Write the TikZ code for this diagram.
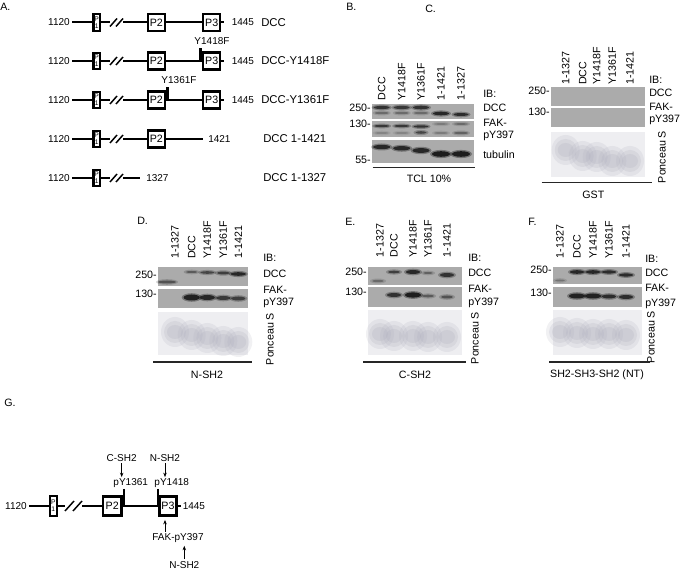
\documentclass[tikz,border=0pt]{standalone}
\usepackage{fontspec}
\setmainfont{Liberation Sans}
\usetikzlibrary{arrows.meta,calc}

\definecolor{blotbg}{gray}{0.67}
\definecolor{bandc}{gray}{0.1}
\definecolor{poncbg}{RGB}{238,238,241}
\definecolor{poncfg}{RGB}{176,176,190}

\begin{document}
\begin{tikzpicture}[
  x=0.75pt, y=-0.75pt,
  >={Stealth[length=3.4pt,width=2.6pt]},
  every node/.style={font=\fontsize{8}{9.6}\selectfont, inner sep=0pt},
  numlbl/.style={font=\fontsize{7.5}{9}\selectfont},
  namelbl/.style={font=\fontsize{8.5}{10}\selectfont, anchor=west},
  domline/.style={line width=1.5pt},
  brkmark/.style={line width=1.1pt},
  tyrbar/.style={line width=2pt},
  pbox/.style={draw, line width=1.8pt, minimum width=12.8pt, minimum height=12.8pt},
  ponebox/.style={draw, line width=1.6pt, minimum width=4.8pt, minimum height=12.4pt,
    align=center, font=\fontsize{5}{5}\selectfont},
  lane/.style={rotate=90, anchor=west},
  iblbl/.style={anchor=west},
  mwlbl/.style={anchor=east},
  uline/.style={line width=0.9pt, black!85},
  garr/.style={->, line width=0.7pt}
]
  \useasboundingbox (0,0) rectangle (683,573);

  % panel letters
  \node[anchor=west] (lA) at (0,7) {A.};
  \node[anchor=west] (lB) at (346,7) {B.};
  \node[anchor=west] (lC) at (425,9) {C.};
  \node[anchor=west] (lD) at (137,221) {D.};
  \node[anchor=west] (lE) at (345,222) {E.};
  \node[anchor=west] (lF) at (528,222) {F.};
  \node[anchor=west] (lG) at (4,403) {G.};

  % A: the five constructs
  \foreach \r/\y in {1/22.5,2/61,3/100,4/139,5/178}{
    \node[numlbl, anchor=east] (a\r) at (70,\y) {1120};
    \node[ponebox] (pa\r) at (96.7,\y) {P\\1};
    \coordinate (ba\r) at (110,\y);
    \coordinate (ca\r) at (123,\y);
    \draw[domline] ([xshift=1.5pt]a\r.east) -- (pa\r);
    \draw[domline] (pa\r) -- (ba\r);
    \draw[brkmark] ([shift={(0,4)}]ba\r) -- ([shift={(7,-4)}]ba\r);
    \draw[brkmark] ([shift={(6,4)}]ba\r) -- ([shift={(13,-4)}]ba\r);
  }
  \foreach \r/\y in {1/22.5,2/61,3/100,4/139}{
    \node[pbox] (pb\r) at (156.3,\y) {P2};
    \draw[domline] (ca\r) -- (pb\r);
  }
  \foreach \r/\y in {1/22.5,2/61,3/100}{
    \node[pbox] (pc\r) at (211.7,\y) {P3};
    \draw[domline] (pb\r) -- (pc\r);
    \draw[domline] (pc\r.east) -- ++(3,0);
    \node[numlbl, anchor=west] (ea\r) at (231.5,\y) {1445};
  }
  \node[numlbl, anchor=west] (ea4) at (208,139) {1421};
  \draw[domline] (pb4) -- ([xshift=-3.8pt]ea4.west);
  \node[numlbl, anchor=west] (ea5) at (146,178) {1327};
  \draw[domline] (ca5) -- ([xshift=-4.5pt]ea5.west);

  \node[namelbl] (na1) at (261,22.5) {DCC};
  \node[namelbl] (na2) at (261,61) {DCC-Y1418F};
  \node[namelbl] (na3) at (261,100) {DCC-Y1361F};
  \node[namelbl] (na4) at (263,139) {DCC 1-1421};
  \node[namelbl] (na5) at (263,178) {DCC 1-1327};

  % point mutations
  \draw[tyrbar] ([xshift=-1pt,yshift=2.3pt]pc2.north west) -- ([xshift=-1pt,yshift=-0.8pt]pc2.west);
  \node[numlbl] (ya2) at (212,41) {Y1418F};
  \draw[tyrbar] ([xshift=1pt,yshift=2.3pt]pb3.north east) -- ([xshift=1pt]pb3.east);
  \node[numlbl] (ya3) at (179,80) {Y1361F};

  % blot backgrounds
  \fill[blotbg] (372,104) rectangle (474,119);
  \fill[blotbg] (372,121.3) rectangle (474,137.3);
  \fill[blotbg] (372,140) rectangle (474,163.3);
  \fill[blotbg] (551,87) rectangle (645,106);
  \fill[blotbg] (551,108) rectangle (645,127);
  \fill[blotbg] (158,267) rectangle (248,286);
  \fill[blotbg] (158,289) rectangle (248,308.5);
  \fill[blotbg] (368,267) rectangle (462,285);
  \fill[blotbg] (368,287.5) rectangle (462,307);
  \fill[blotbg] (553,267) rectangle (642,284.5);
  \fill[blotbg] (553,287.5) rectangle (642,307);
  % ponceau panels
  \fill[poncbg] (551,132) rectangle (645,177);
  \fill[poncbg] (158,312) rectangle (248,355);
  \fill[poncbg] (368,310) rectangle (462,355);
  \fill[poncbg] (553,310) rectangle (642,355);

  % bands: x/y/rx/ry/opacity
  \foreach \x/\y/\rx/\ry/\o in {
    381.7/107.5/8/1.6/0.75, 401.7/107.5/8/1.6/0.7, 421/107.5/8/1.8/0.75,
    381.7/113/7/1.2/0.35, 401.7/113/7/1.2/0.35, 421/113/7/1.2/0.35,
    441/113.5/8/1.8/0.85, 461/114.5/7.5/1.5/0.8,
    381.7/126/7.5/1.1/0.7, 401.7/126/7.5/1.1/0.7, 421/126.5/7.5/1.2/0.75,
    381.7/133/7/1/0.2, 401.7/133/7/1/0.2, 421/132.5/5.5/1.3/0.6,
    441/124/7/0.9/0.25, 461/124/7/0.9/0.35, 441/133/7/1/0.25, 461/133/7/1.2/0.4,
    381.7/147/8.5/2.2/0.85, 401.7/148.3/8.5/2.2/0.85, 421/150.5/8.5/2.4/0.85,
    441/154/9/2.8/0.95, 461/154/9/2.8/0.95,
    167/282/9/1.5/0.5, 191.7/272/6/1/0.45, 207.3/272.5/7/1.3/0.6,
    223.3/273/6.5/1.4/0.65, 238.3/274/7.5/1.8/0.85,
    191.7/297.5/8/3/0.9, 207.3/297.5/7.5/2.5/0.85, 223.3/298/7/2/0.7, 238.3/298.5/7/2/0.65,
    378/281/6/1.2/0.35, 394/272/6/1.3/0.65, 413/272/7/2/0.85, 428/273/5/1/0.4, 447/275/7/2/0.75,
    394/295/7/2/0.75, 413/295/8/2.6/0.95, 428/296/6/1.3/0.45, 447/297/6/1.5/0.5,
    560/280.5/5/1/0.3, 577/272/7/1.8/0.85, 593/272/7/1.8/0.85, 609/272/7/1.6/0.8, 626/275/7/1.6/0.8,
    577/296/8/2.5/0.9, 593/296/8/2.5/0.9, 609/296.5/7/2/0.8, 626/297/7/2/0.8}{
    \pgfmathsetmacro\oh{0.4*\o}
    \fill[bandc, opacity=\oh] (\x,\y) ellipse ({\rx+2} and {\ry+1.3});
    \fill[bandc, opacity=\o] (\x,\y) ellipse ({\rx} and {\ry});
  }

  % ponceau stain: x/y
  \foreach \x/\y in {
    565.7/150, 582.7/156, 596.7/157, 612.3/161, 630/161,
    175/332, 191.7/335, 207.3/338, 223.3/341, 238.3/342,
    380/334, 394/336, 413/336, 428/337, 447/337,
    560/332, 577/333, 593/334, 609/334, 626/335}{
    \fill[poncfg, opacity=0.18] (\x,\y) ellipse (14 and 15);
    \fill[poncfg, opacity=0.22] (\x,\y) ellipse (11 and 11);
    \fill[poncfg, opacity=0.25] (\x,\y) ellipse (8 and 7);
  }

  % B labels
  \foreach \x/\t [count=\i] in {381.7/DCC,401.7/Y1418F,421/Y1361F,441/1-1421,461/1-1327}
    \node[lane] (bl\i) at (\x,100.5) {\t};
  \node[mwlbl] (bm1) at (371,108) {250-};
  \node[mwlbl] (bm2) at (371,124) {130-};
  \node[mwlbl] (bm3) at (371,160) {55-};
  \node[iblbl] (bi1) at (483,94) {IB:};
  \node[iblbl] (bi2) at (483,107.5) {DCC};
  \node[iblbl] (bi3) at (483,123) {FAK-};
  \node[iblbl] (bi4) at (483,136) {pY397};
  \node[iblbl] (bi5) at (483,154.3) {tubulin};
  \draw[uline] (372.7,167.7) -- (475,167.7);
  \node (bt) at (429,178.5) {TCL 10\%};

  % C labels
  \foreach \x/\t [count=\i] in {565.7/1-1327,582.7/DCC,596.7/Y1418F,612.3/Y1361F,630/1-1421}
    \node[lane] (cl\i) at (\x,85) {\t};
  \node[mwlbl] (cm1) at (550,91) {250-};
  \node[mwlbl] (cm2) at (550,112) {130-};
  \node[iblbl] (ci1) at (649,80) {IB:};
  \node[iblbl] (ci2) at (649,93.3) {DCC};
  \node[iblbl] (ci3) at (649,107) {FAK-};
  \node[iblbl] (ci4) at (649,120) {pY397};
  \node[rotate=90] (cp) at (662,157) {Ponceau S};
  \draw[uline] (541.7,182.7) -- (651.7,182.7);
  \node (ct) at (593.3,195) {GST};

  % D labels
  \foreach \x/\t [count=\i] in {175/1-1327,191.7/DCC,207.3/Y1418F,223.3/Y1361F,238.3/1-1421}
    \node[lane] (dl\i) at (\x,259) {\t};
  \node[mwlbl] (dm1) at (157,275) {250-};
  \node[mwlbl] (dm2) at (157,294) {130-};
  \node[iblbl] (di1) at (263,258) {IB:};
  \node[iblbl] (di2) at (263,273.5) {DCC};
  \node[iblbl] (di3) at (263,289.5) {FAK-};
  \node[iblbl] (di4) at (263,303) {pY397};
  \node[rotate=90] (dp) at (270,339) {Ponceau S};
  \draw[uline] (153,362) -- (252,362);
  \node (dt) at (207,375) {N-SH2};

  % E labels
  \foreach \x/\t [count=\i] in {380/1-1327,394/DCC,413/Y1418F,428/Y1361F,447/1-1421}
    \node[lane] (el\i) at (\x,257.5) {\t};
  \node[mwlbl] (em1) at (367,272) {250-};
  \node[mwlbl] (em2) at (367,292) {130-};
  \node[iblbl] (ei1) at (468,258) {IB:};
  \node[iblbl] (ei2) at (468,273) {DCC};
  \node[iblbl] (ei3) at (468,288.5) {FAK-};
  \node[iblbl] (ei4) at (468,303) {pY397};
  \node[rotate=90] (ep) at (475,338) {Ponceau S};
  \draw[uline] (363,362) -- (466,362);
  \node (et) at (415,375) {C-SH2};

  % F labels
  \foreach \x/\t [count=\i] in {560/1-1327,577/DCC,593/Y1418F,609/Y1361F,626/1-1421}
    \node[lane] (fl\i) at (\x,258.5) {\t};
  \node[mwlbl] (fm1) at (552,270) {250-};
  \node[mwlbl] (fm2) at (552,293) {130-};
  \node[iblbl] (fi1) at (645,259) {IB:};
  \node[iblbl] (fi2) at (645,273) {DCC};
  \node[iblbl] (fi3) at (645,288) {FAK-};
  \node[iblbl] (fi4) at (645,303.5) {pY397};
  \node[rotate=90] (fp) at (651,337) {Ponceau S};
  \draw[uline] (549,362) -- (650,362);
  \node (ft) at (597,375) {SH2-SH3-SH2 (NT)};

  % G: binding map
  \node[numlbl, anchor=east] (g0) at (27,506) {1120};
  \node[ponebox, minimum width=5.6pt, minimum height=14.4pt] (gp1) at (53.3,506) {P\\1};
  \coordinate (gb) at (65,506);
  \coordinate (gc) at (82,506);
  \draw[domline] ([xshift=1.5pt]g0.east) -- (gp1);
  \draw[domline] (gp1) -- (gb);
  \draw[brkmark] ([shift={(0,5)}]gb) -- ([shift={(9,-5)}]gb);
  \draw[brkmark] ([shift={(8,5)}]gb) -- ([shift={(17,-5)}]gb);
  \node[pbox, minimum width=14pt, minimum height=14pt] (gp2) at (112.2,506) {P2};
  \node[pbox, minimum width=12.8pt, minimum height=14pt] (gp3) at (168,506) {P3};
  \draw[domline] (gc) -- (gp2);
  \draw[domline] (gp2) -- (gp3);
  \draw[domline] (gp3.east) -- ++(3,0);
  \node[numlbl, anchor=west] (g1) at (182.5,506) {1445};
  \draw[tyrbar] ([xshift=1pt,yshift=5pt]gp2.north east) -- ([xshift=1pt]gp2.east);
  \draw[tyrbar] ([xshift=-0.3pt,yshift=5pt]gp3.north west) -- ([xshift=-0.3pt]gp3.west);

  \node[numlbl] (gcs) at (121.7,458) {C-SH2};
  \node[numlbl] (gy1) at (130.7,483.3) {pY1361};
  \node[numlbl] (gns) at (165,458) {N-SH2};
  \node[numlbl] (gy2) at (171.7,483.3) {pY1418};
  \node[numlbl] (gfak) at (178,538.3) {FAK-pY397};
  \node[numlbl] (gnb) at (184.3,565) {N-SH2};
  \draw[garr, shorten <=1pt, shorten >=1pt] (gcs.south) -- (gcs.south |- gy1.north);
  \draw[garr, shorten <=1pt, shorten >=1pt] (gns.south) -- (gns.south |- gy2.north);
  \draw[garr, shorten <=1.5pt, shorten >=2.5pt] (gfak.north -| gns.south) -- (gns.south |- gp3.south);
  \draw[garr, shorten <=1.5pt, shorten >=2pt] (gnb.north) -- (gnb.north |- gfak.south);
\end{tikzpicture}
\end{document}
